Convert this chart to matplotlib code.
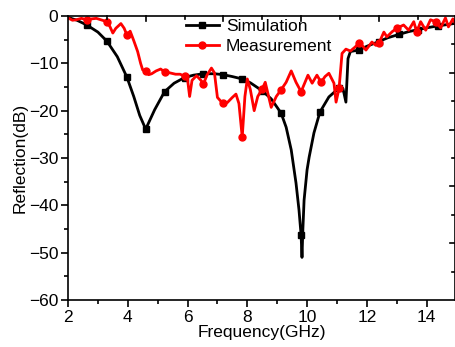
import matplotlib
matplotlib.use("Agg")
import matplotlib.pyplot as plt
from matplotlib.ticker import MultipleLocator

plt.rcParams['font.family'] = ['Liberation Sans', 'DejaVu Sans']

sim_freq = [2.0, 2.3, 2.63, 3.0, 3.3, 3.65, 3.97, 4.2, 4.4, 4.6, 4.9, 5.23, 5.55, 5.9,
            6.2, 6.53, 6.9, 7.2, 7.5, 7.83, 8.1, 8.5, 8.8, 9.13, 9.3, 9.47, 9.63, 9.73,
            9.8, 9.83, 9.86, 9.9, 10.0, 10.07, 10.23, 10.43, 10.73, 11.07, 11.2, 11.3,
            11.37, 11.45, 11.73, 12.0, 12.4, 12.7, 13.07, 13.4, 13.7, 14.0, 14.37, 14.7,
            15.0]
sim_refl = [-0.3, -0.9, -1.9, -3.4, -5.3, -8.6, -12.9, -17.0, -21.0, -23.9, -19.8, -16.0,
            -14.2, -13.0, -12.5, -12.2, -12.2, -12.4, -12.8, -13.3, -14.1, -15.8, -17.5,
            -20.5, -23.5, -28.3, -35.3, -41.0, -46.3, -51.0, -45.0, -38.9, -32.5, -29.8,
            -24.7, -20.3, -17.1, -15.2, -15.3, -18.2, -9.0, -7.5, -7.2, -6.4, -5.4, -4.6,
            -3.9, -3.3, -2.9, -2.5, -2.1, -1.8, -1.5]
sim_marks = [2.63, 3.3, 3.97, 4.6, 5.23, 5.9, 6.53, 7.2, 7.83, 8.5, 9.13, 9.8, 10.43,
             11.07, 11.73, 12.4, 13.07, 13.7, 14.37]

meas_freq = [2.0, 2.15, 2.27, 2.45, 2.63, 2.8, 2.95, 3.1, 3.3, 3.4, 3.5, 3.6, 3.77, 3.88,
             3.97, 4.08, 4.2, 4.33, 4.43, 4.5, 4.6, 4.7, 4.8, 4.95, 5.1, 5.23, 5.4, 5.6,
             5.75, 5.9, 6.0, 6.07, 6.15, 6.3, 6.45, 6.53, 6.65, 6.8, 6.9, 7.0, 7.17, 7.33,
             7.5, 7.62, 7.72, 7.83, 7.92, 8.0, 8.1, 8.23, 8.35, 8.5, 8.6, 8.8, 8.97, 9.13,
             9.3, 9.47, 9.63, 9.8, 10.03, 10.17, 10.33, 10.47, 10.6, 10.73, 10.9, 10.97,
             11.07, 11.17, 11.3, 11.45, 11.6, 11.73, 11.87, 11.97, 12.17, 12.3, 12.4,
             12.57, 12.67, 12.85, 13.0, 13.23, 13.4, 13.57, 13.67, 13.8, 13.97, 14.13,
             14.3, 14.47, 14.63, 14.73, 14.88, 15.0]
meas_refl = [-0.4, -0.9, -0.8, -0.5, -0.8, -0.6, -0.5, -0.8, -1.2, -2.2, -3.6, -2.6, -1.6,
             -2.6, -4.0, -3.2, -5.2, -7.5, -10.0, -11.4, -11.7, -12.4, -12.2, -11.6, -11.2,
             -11.8, -12.0, -12.3, -12.3, -12.7, -13.4, -17.0, -13.6, -12.6, -13.6, -14.4,
             -12.5, -11.0, -12.0, -17.2, -18.4, -18.3, -17.2, -16.5, -18.5, -25.6, -17.0,
             -13.3, -15.5, -20.0, -17.0, -15.4, -14.0, -19.3, -17.0, -15.6, -14.0, -11.6,
             -14.0, -16.0, -12.5, -14.2, -12.5, -14.0, -12.8, -12.1, -14.2, -18.2, -15.3,
             -7.9, -7.0, -7.4, -6.6, -5.8, -6.4, -7.2, -5.5, -6.2, -5.8, -3.4, -4.4, -3.3,
             -2.6, -1.9, -3.0, -1.2, -3.4, -1.2, -3.0, -0.8, -1.2, -2.5, -0.4, -2.3, -0.6,
             -2.0]
meas_marks = [2.63, 3.3, 3.97, 4.6, 5.23, 5.9, 6.53, 7.17, 7.83, 8.5, 9.13, 9.8, 10.47,
              11.07, 11.73, 12.4, 13.0, 13.67, 14.3]

x_major = [2, 4, 6, 8, 10, 12, 14]
y_major = [0, -10, -20, -30, -40, -50, -60]
top_ticks = [3.3, 4.6, 5.9, 7.2, 8.5, 9.8, 11.1, 12.4, 13.7]
right_ticks = [-6, -12, -18, -24, -30, -36, -42, -48, -54]

fig = plt.figure(figsize=(4.56, 3.47), dpi=100)
ax = fig.add_axes([68/456, 1 - 300/347, (455 - 68)/456, (300 - 16)/347])

sim_idx = [i for i, f in enumerate(sim_freq) if f in sim_marks]
meas_idx = [i for i, f in enumerate(meas_freq) if f in meas_marks]

ax.plot(sim_freq, sim_refl, color='black', lw=2, marker='s', ms=4.5,
        markevery=sim_idx, label='Simulation')
ax.plot(meas_freq, meas_refl, color='#ff0000', lw=2, marker='o', ms=5,
        markevery=meas_idx, label='Measurement')

xmax = 14.95
ax.set_xlim(2, xmax)
ax.set_ylim(-60, 0)
ax.set_xticks(x_major)
ax.set_yticks(y_major)
ax.xaxis.set_minor_locator(MultipleLocator(1))
ax.yaxis.set_minor_locator(MultipleLocator(5))
ax.tick_params(which='major', direction='out', length=5, width=1.2, labelsize=12.5, pad=2,
               top=False, right=False)
ax.tick_params(which='minor', direction='out', length=3, width=1.2, top=False, right=False)
for s in ax.spines.values():
    s.set_linewidth(1.2)

# top & right inward ticks
for i, t in enumerate(top_ticks):
    L = 5 if i % 2 == 1 else 3
    ax.plot([t, t], [0, -L / 4.733], color='black', lw=1.2, clip_on=False)
for i, t in enumerate(right_ticks):
    L = 5 if i % 2 == 1 else 3
    ax.plot([xmax, xmax - L / 29.87], [t, t], color='black', lw=1.2, clip_on=False)

ax.set_xlabel('Frequency(GHz)', fontsize=12.5, labelpad=0)
ax.set_ylabel('Reflection(dB)', fontsize=12.5, labelpad=1)

ax.legend(loc='upper left', bbox_to_anchor=(186/456, 1 - 19/347), bbox_transform=fig.transFigure,
          frameon=False, fontsize=12.5, handlelength=1.9, handletextpad=0.4,
          labelspacing=0.25, borderpad=0, borderaxespad=0)

fig.savefig('out.png', dpi=100)
